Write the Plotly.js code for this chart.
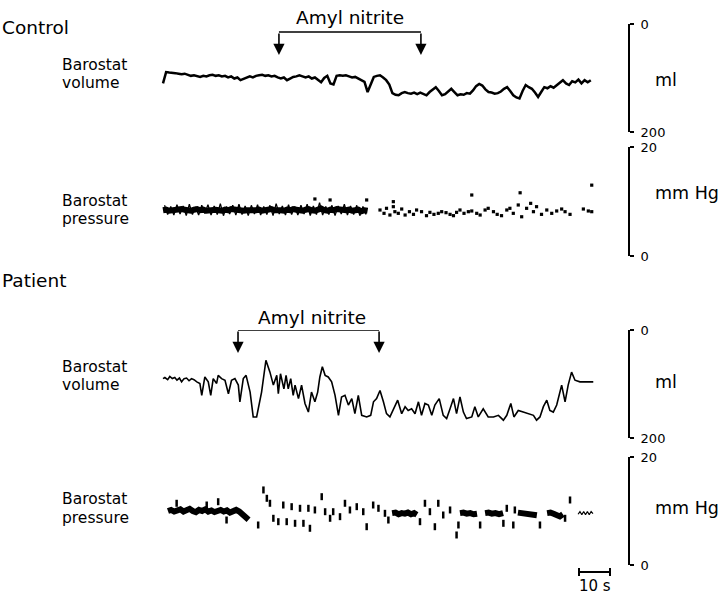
<!DOCTYPE html>
<html><head><meta charset="utf-8">
<script src="https://cdn.plot.ly/plotly-3.0.1.min.js"></script>
<style>html,body{margin:0;padding:0;background:#fff;} #chart{width:720px;height:601px;}</style>
</head><body><div id="chart"></div>
<script>
// ---------------- DATA (time in s, volume in ml, pressure in mm Hg) ----------------
// Control: barostat volume, sampled every 1 s from t = 0
const ctrlVolMl = [110,89,90,90,91,92,93,92,94,96,95,97,98,96,97,95,94,96,95,97,
  96,99,97,101,99,104,102,100,97,99,96,95,94,96,95,97,96,99,101,99,
  104,101,98,97,95,97,99,97,101,99,103,108,100,96,110,112,96,95,96,95,
  97,99,98,101,103,107,126,112,98,96,95,99,104,112,128,131,132,128,126,128,
  129,127,130,127,130,132,126,121,117,124,132,130,125,120,126,132,130,131,128,129,
  123,115,111,114,121,126,127,129,128,125,120,117,124,132,136,138,124,113,117,120,
  127,135,126,117,119,115,118,113,109,104,110,113,106,108,103,110,104,108,104];
// Control: barostat pressure, dense part sampled every 1 s from t = 0
const ctrlPressBand = [8.4,8.5,8.3,8.4,8.5,8.4,8.6,8.5,8.4,8.3,8.5,8.6,8.4,8.5,8.3,8.4,8.6,8.5,8.4,8.3,
  8.5,8.4,8.6,8.5,8.4,8.5,8.3,8.4,8.5,8.4,8.4,8.5,8.3,8.4,8.5,8.6,8.4,8.5,8.4,8.3,
  8.5,8.4,8.6,8.5,8.4,8.3,8.5,8.6,8.4,8.3,8.5,8.7,8.4,8.3,8.5,8.4,8.6,8.5,8.3,8.4,
  8.5,8.3,8.4,8.5,8.2,8.4,8.3];
// Control: barostat pressure, fast swings within the dense part, every 1 s from t = 0.5
const ctrlPressSwing = [9.3,7.6,9.1,7.5,9.4,7.7,9.2,7.4,9.5,7.6,9.0,7.5,9.3,7.8,9.4,7.5,9.2,7.6,9.6,7.4,
  9.1,7.7,9.3,7.5,9.5,7.6,9.2,7.4,9.3,7.7,9.4,7.5,9.1,7.6,9.3,7.4,9.6,7.7,9.2,7.5,
  9.4,7.6,9.1,7.5,9.3,7.7,9.5,7.4,9.2,7.6,9.8,7.5,9.1,7.6,9.3,7.4,9.2,7.7,9.5,7.5,
  9.2,7.6,9.3,7.4,9.1,7.6];
// Control: barostat pressure, scattered samples
const ctrlPressDotT = [70.0,71.3,72.1,73.2,74.3,74.8,75.9,77.0,78.1,79.5,80.8,81.8,83.4,85.0,86.1,87.4,88.8,89.9,91.3,92.6,
  93.7,94.7,95.8,97.1,98.5,99.6,101.2,102.3,103.9,104.9,106.6,107.8,109.2,110.9,111.9,113.0,114.6,115.7,117.3,118.6,
  119.5,120.5,122.1,123.8,125.4,127.0,128.6,129.7,131.3,135.6,137.2,138.3,
  49.0,53.9,65.7,74.3,99.6,115.2,138.3];
const ctrlPressDotMm = [8.44,7.83,8.75,7.52,9.05,8.13,7.83,8.62,7.52,8.13,7.64,8.44,8.13,7.4,8.01,7.64,7.83,8.13,7.95,7.64,
  7.4,8.01,8.44,7.83,8.13,8.26,7.83,7.52,8.44,8.75,8.13,7.64,7.4,8.44,8.75,7.83,9.36,7.2,8.75,9.66,
  8.13,9.05,7.64,8.44,7.83,8.26,8.62,8.13,7.64,8.62,8.26,8.13,
  10.46,10.28,10.28,9.97,11.19,11.6,13.0];

// Patient: barostat volume
const patVolT = [0,0.6,1.5,2.2,3,3.8,4.5,5.3,6,6.8,7.6,8.4,9.2,10,10.9,11.9,12.5,13.5,14.6,15.4,
  16.2,17.3,17.8,18.9,20,21.1,22.1,23.2,24.3,24.8,25.9,26.8,28.1,29.1,30.2,31.8,33.2,34.5,35.6,36.7,
  37.2,37.9,39,39.7,40.4,41.2,42,42.6,43.7,44.7,45.8,46.9,47.9,49,49.9,50.6,51.4,52.3,53.3,54.4,
  55.5,56.6,57.6,58.7,59.8,60.9,61.9,63,64.1,65.7,67,67.9,68.9,70,71.1,72.1,73.2,74.3,75.7,77,
  78.1,79.1,80.2,81.3,82.4,83.4,84.5,85.6,86.7,87.7,89.1,90.4,91.5,92.6,93.7,94.7,95.8,96.9,97.9,99.6,
  100.6,101.7,103.3,104.9,106.6,108.2,109.8,110.9,112.2,113.2,114.6,116.2,117.8,119.5,120.5,121.6,122.7,123.8,124.8,125.9,
  127,128.6,129.7,130.7,131.8,132.9,134.5,138.8];
const patVolMl = [90,88,92,86,90,88,93,89,96,90,89,94,90,92,96,99,121,87,96,121,
  90,99,84,90,93,118,93,90,102,133,90,84,115,161,161,115,56,78,102,84,
  118,81,109,84,109,90,121,102,127,102,136,152,115,133,115,87,68,84,87,96,
  121,158,124,121,139,127,155,121,158,161,158,133,127,112,133,155,161,146,130,155,
  142,149,146,155,133,158,136,139,158,139,127,158,164,146,127,155,124,152,164,161,
  142,161,146,161,161,158,167,158,136,161,149,152,155,158,167,161,142,130,149,152,
  139,102,133,102,78,93,96,96];

// Patient: barostat pressure, dense stretches (null = gap in the record)
const patPressT = [1.6,2.6,3.6,4.6,5.6,6.6,7.6,8.6,9.6,10.6,11.6,12.6,13.6,14.6,15.6,16.6,17.6,18.6,19.6,20.6,
  21.6,22.6,23.6,24.6,25.6,26.6,27.6,null,
  73.9,75,76,77,78,79,80,81,81.9,null,
  95.8,96.9,98,99.1,100.2,101.3,null,
  103.9,105,106.1,107.2,108.4,109.7,null,
  114.5,115.6,116.8,118,119.3,120.6,null,
  123.9,125,126,127,128,129];
const patPressMm = [10.0,10.2,9.9,10.1,10.3,9.9,10.1,10.4,10.0,9.8,10.2,10.0,10.3,9.9,10.1,9.8,10.0,10.2,9.9,10.1,
  9.7,10.0,10.2,9.9,9.5,9.0,8.4,null,
  9.6,9.7,9.4,9.6,9.5,9.7,9.4,9.6,9.3,null,
  9.6,9.7,9.5,9.6,9.4,9.5,null,
  9.6,9.7,9.5,9.6,9.4,9.6,null,
  9.7,9.6,9.5,9.6,9.4,9.2,null,
  9.6,9.7,9.5,9.3,9.0,9.4];
// Patient: barostat pressure, end of record (fine oscillation)
const patEndT = [133.9,134.5,135.1,135.7,136.3,136.9,137.5,138.1,138.7];
const patEndMm = [9.4,9.9,9.3,9.9,9.3,9.9,9.3,9.9,9.5];
// Patient: barostat pressure, scattered short deflections
const patDotT = [32.4,33.5,34.5,35.6,37.2,38.8,39.9,41.5,42.6,44.2,45.3,46.9,47.4,49.0,51.2,52.3,53.9,54.9,57.1,58.7,
  60.3,62.5,64.6,65.7,67.8,69.5,71.6,72.7,82.9,84.5,86.1,87.7,88.8,90.4,92.6,94.7,95.3,102.3,109.8,110.9,
  113.0,113.5,121.6,129.7,131.3,4.4,14.1,17.8,20.5,30.7];
const patDotMm = [13.9,12.35,11.43,8.65,8.02,11.11,8.02,10.8,7.72,10.5,7.72,10.5,6.8,10.19,12.65,9.87,8.65,9.87,8.95,11.43,
  10.19,10.8,9.87,7.09,11.11,10.5,9.57,8.33,8.02,11.43,9.87,7.09,11.43,9.26,10.19,5.56,7.41,7.41,7.72,10.5,
  7.41,10.19,7.41,8.65,12.04,11.43,11.11,11.72,8.33,7.41];

// Amyl nitrite inhalation (start, end) in s
const amylCtrl = [37.4, 83.2];
const amylPat = [24.2, 69.7];
// Time scale bar
const scaleBarStart = 134.2;
const scaleBarSec = 10;

// ---------------- LAYOUT ----------------
const W = 720, H = 601;
const FONT = 'DejaVu Sans, Liberation Sans, Arial, sans-serif';
const PXS = 3.1, T0PX = 163;           // px per second, x-pixel of t = 0
const AXX = 629;                        // x-pixel of the scale axes
const pyy = p => 1 - p / H;
const pxx = p => p / W;

function scaleAxis(topPx, botPx, range, tickvals) {
  return {
    domain: [pyy(botPx), pyy(topPx)], range: range, anchor: 'free', position: pxx(AXX),
    side: 'right', showline: true, linecolor: '#000', linewidth: 2,
    ticks: 'outside', ticklen: 4, tickwidth: 2, tickcolor: '#000',
    tickvals: tickvals, ticktext: tickvals.map(String), ticklabelstandoff: 4,
    showgrid: false, zeroline: false, fixedrange: true,
    tickfont: {family: FONT, size: 13, color: '#000'}
  };
}

const traces = [
  {x0: 0, dx: 1, y: ctrlVolMl, xaxis: 'x', yaxis: 'y', mode: 'lines',
   line: {color: '#000', width: 2.5}, hoverinfo: 'skip'},
  {x0: 0, dx: 1, y: ctrlPressBand, xaxis: 'x', yaxis: 'y2', mode: 'lines',
   line: {color: '#000', width: 6}, hoverinfo: 'skip'},
  {x0: 0.5, dx: 1, y: ctrlPressSwing, xaxis: 'x', yaxis: 'y2', mode: 'lines',
   line: {color: '#000', width: 1.3}, hoverinfo: 'skip'},
  {x: ctrlPressDotT, y: ctrlPressDotMm, xaxis: 'x', yaxis: 'y2', mode: 'markers',
   marker: {color: '#000', size: 3.2, symbol: 'square'}, hoverinfo: 'skip'},
  {x: patVolT, y: patVolMl, xaxis: 'x', yaxis: 'y3', mode: 'lines',
   line: {color: '#000', width: 1.6}, hoverinfo: 'skip'},
  {x: patPressT, y: patPressMm, xaxis: 'x', yaxis: 'y4', mode: 'lines', connectgaps: false,
   line: {color: '#000', width: 6}, hoverinfo: 'skip'},
  {x: patEndT, y: patEndMm, xaxis: 'x', yaxis: 'y4', mode: 'lines',
   line: {color: '#000', width: 1.2}, hoverinfo: 'skip'},
  {x: patDotT, y: patDotMm, xaxis: 'x', yaxis: 'y4', mode: 'markers',
   marker: {symbol: 'line-ns-open', size: 5, color: '#000', line: {color: '#000', width: 2.5}}, hoverinfo: 'skip'}
];

function label(text, px, py, size, anchor) {
  return {text: text, xref: 'paper', yref: 'paper', x: pxx(px), y: pyy(py),
    xanchor: anchor || 'left', yanchor: 'middle', showarrow: false,
    font: {family: FONT, size: size, color: '#000'}};
}
function arrow(t, yref, tipVal, tailVal) {
  return {text: '', x: t, y: tipVal, xref: 'x', yref: yref, ax: t, ay: tailVal, axref: 'x', ayref: yref,
    showarrow: true, arrowhead: 2, arrowsize: 1.4, arrowwidth: 1.6, arrowcolor: '#000', standoff: 0};
}

const annotations = [
  label('Control', 0, 28, 18.5),
  label('Barostat', 60, 65, 15.5), label('volume', 60, 83, 15.5),
  label('Barostat', 60, 201, 15.5), label('pressure', 60, 219, 15.5),
  label('Patient', 0, 280, 18.5),
  label('Barostat', 60, 367, 15.5), label('volume', 60, 385, 15.5),
  label('Barostat', 60, 499, 15.5), label('pressure', 60, 518, 15.5),
  label('ml', 653, 80, 17.5), label('mm Hg', 653, 193, 17.5),
  label('ml', 653, 382, 17.5), label('mm Hg', 653, 508, 17.5),
  {text: 'Amyl nitrite', xref: 'x', yref: 'paper', x: (amylCtrl[0] + amylCtrl[1]) / 2, y: pyy(18),
   xanchor: 'center', yanchor: 'middle', showarrow: false, font: {family: FONT, size: 18.5, color: '#000'}},
  {text: 'Amyl nitrite', xref: 'x', yref: 'paper', x: (amylPat[0] + amylPat[1]) / 2 + 1, y: pyy(317),
   xanchor: 'center', yanchor: 'middle', showarrow: false, font: {family: FONT, size: 18.5, color: '#000'}},
  arrow(amylCtrl[0], 'y', 57.4, 14.8), arrow(amylCtrl[1], 'y', 57.4, 14.8),
  arrow(amylPat[0], 'y3', 42.6, 0), arrow(amylPat[1], 'y3', 42.6, 0),
  {text: scaleBarSec + ' s', xref: 'x', yref: 'paper', x: scaleBarStart + scaleBarSec / 2, y: pyy(586),
   xanchor: 'center', yanchor: 'middle', showarrow: false, font: {family: FONT, size: 15, color: '#000'}}
];

const shapes = [
  {type: 'line', xref: 'x', yref: 'y', x0: amylCtrl[0], x1: amylCtrl[1], y0: 14.8, y1: 14.8, line: {color: '#000', width: 1.6}},
  {type: 'line', xref: 'x', yref: 'y3', x0: amylPat[0], x1: amylPat[1], y0: 0, y1: 0, line: {color: '#000', width: 1.6}},
  {type: 'line', xref: 'x', yref: 'paper', x0: scaleBarStart, x1: scaleBarStart + scaleBarSec, y0: pyy(572), y1: pyy(572), line: {color: '#000', width: 2}},
  {type: 'line', xref: 'x', yref: 'paper', x0: scaleBarStart, x1: scaleBarStart, y0: pyy(568), y1: pyy(576), line: {color: '#000', width: 2}},
  {type: 'line', xref: 'x', yref: 'paper', x0: scaleBarStart + scaleBarSec, x1: scaleBarStart + scaleBarSec, y0: pyy(568), y1: pyy(576), line: {color: '#000', width: 2}}
];

const layout = {
  width: W, height: H, margin: {l: 0, r: 0, t: 0, b: 0},
  paper_bgcolor: '#fff', plot_bgcolor: 'rgba(0,0,0,0)', showlegend: false,
  font: {family: FONT, color: '#000'},
  xaxis: {domain: [0, 1], range: [-T0PX / PXS, (W - T0PX) / PXS], visible: false, fixedrange: true},
  yaxis: scaleAxis(24, 132, [200, 0], [0, 200]),
  yaxis2: scaleAxis(147, 256, [0, 20], [0, 20]),
  yaxis3: scaleAxis(330, 438, [200, 0], [0, 200]),
  yaxis4: scaleAxis(457, 565, [0, 20], [0, 20]),
  annotations: annotations, shapes: shapes
};

Plotly.newPlot('chart', traces, layout, {staticPlot: true, displayModeBar: false});
</script></body></html>
